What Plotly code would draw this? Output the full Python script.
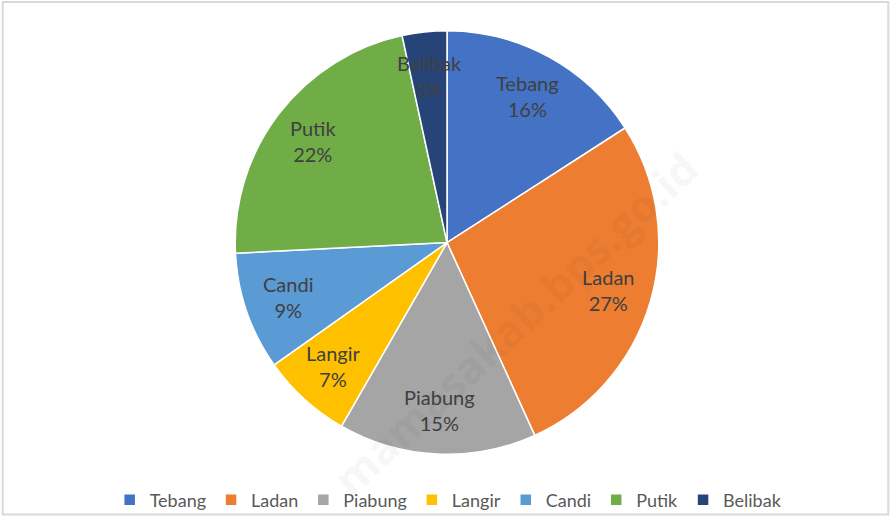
import math
import plotly.graph_objects as go

labels = ["Tebang", "Ladan", "Piabung", "Langir", "Candi", "Putik", "Belibak"]
values = [15.9, 27.3, 15.1, 6.9, 9.0, 22.4, 3.4]
colors = ["#4472C4", "#ED7D31", "#A5A5A5", "#FFC000", "#5B9BD5", "#70AD47", "#264478"]

W, H = 891, 519
cx, cy, r = 447, 244, 213
FONT = "Lato, Carlito, Calibri, sans-serif"

fig = go.Figure(go.Pie(
    labels=labels, values=values, sort=False, direction="clockwise", rotation=0,
    marker=dict(colors=colors, line=dict(color="white", width=1.5)),
    textinfo="none",
    domain=dict(x=[(cx - r) / W, (cx + r) / W], y=[(H - cy - r) / H, (H - cy + r) / H]),
    hoverinfo="label+percent",
))

# data labels placed at ~0.79 of the radius along each slice's mid-angle
total = sum(values)
annotations = []
cum = 0.0
for lab, v in zip(labels, values):
    mid = (cum + v / 2) / total * 2 * math.pi
    cum += v
    px = cx + 0.79 * r * math.sin(mid)
    py = cy - 0.79 * r * math.cos(mid)
    annotations.append(dict(
        text=f"{lab}<br>{round(v / total * 100):.0f}%", xref="paper", yref="paper",
        x=px / W, y=1 - py / H, showarrow=False, xanchor="center", yanchor="middle",
        font=dict(family=FONT, size=20, color="#404040")))

annotations.append(dict(text="<b>mamasakab.bps.go.id</b>", xref="paper", yref="paper",
                        x=515 / W, y=(H - 325) / H, showarrow=False, textangle=-43,
                        font=dict(family="Open Sans, sans-serif", size=44, color="rgba(0,0,0,0.05)")))

fig.update_layout(
    width=W, height=H, margin=dict(l=0, r=0, t=0, b=0),
    paper_bgcolor="white", plot_bgcolor="white",
    showlegend=True,
    legend=dict(orientation="h", x=0.503, xanchor="center", y=16 / H, yanchor="middle",
                font=dict(family=FONT, size=18, color="#595959"),
                bgcolor="rgba(0,0,0,0)", itemwidth=30, traceorder="normal"),
    shapes=[dict(type="rect", xref="paper", yref="paper", x0=0.003, x1=0.997, y0=0.003, y1=0.996,
                 line=dict(color="#D9D9D9", width=2), fillcolor="rgba(0,0,0,0)")],
    annotations=annotations,
)

fig.write_html("out.html", config={"displayModeBar": False},
               post_script="document.body.style.margin='0px';document.body.style.padding='0px';")
